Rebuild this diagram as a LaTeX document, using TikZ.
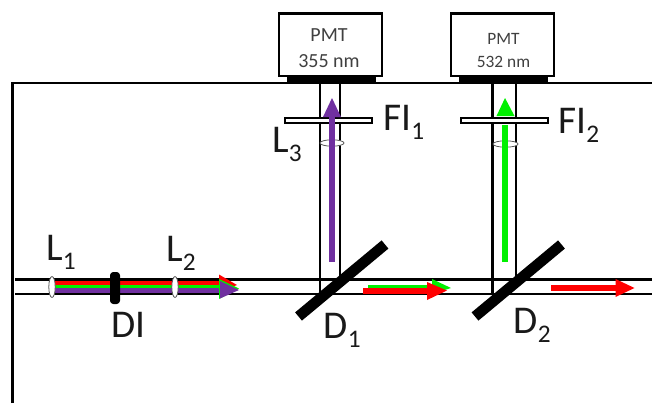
\documentclass[tikz,border=0pt]{standalone}
\usepackage{fontspec}
\setmainfont{Carlito}
\definecolor{beamred}{RGB}{255,0,0}
\definecolor{beamgreen}{RGB}{0,240,0}
\definecolor{beampurple}{RGB}{112,48,160}
\definecolor{pmttext}{RGB}{64,64,64}
\newcommand\labsub[1]{\raisebox{-6.75pt}{\fontsize{19}{19}\selectfont #1}}
\tikzset{
  wire/.style={draw=black,line width=1.6pt},
  pmtbox/.style={wire,fill=white,inner sep=0pt,anchor=north west,minimum width=77pt,minimum height=46.5pt},
  pmtbase/.style={fill=black},
  filterbar/.style={draw=black,line width=1.5pt,fill=white},
  lens/.style={draw=black!65,line width=0.6pt,fill=white},
  mirror/.style={draw=black,line width=8pt},
  biglabel/.style={anchor=base west,inner sep=0pt,text=black!90,font=\fontsize{29.5}{29.5}\selectfont},
  pmtlabel/.style={anchor=base,inner sep=0pt,text=pmttext}
}
\begin{document}
\begin{tikzpicture}[x=0.75pt,y=-0.75pt]
\useasboundingbox (0,0) rectangle (652,403);
% frame and beam tubes
\draw[wire] (12.5,403) -- (12.5,83) -- (652,83);
\draw[wire] (15,279.5) -- (652,279.5);
\draw[wire] (15,294) -- (652,294);
\draw[wire] (320,83) -- (320,293);
\draw[wire] (340,83) -- (340,279);
\draw[wire] (492.5,83) -- (492.5,293);
\draw[wire] (516,83) -- (516,279);
% PMTs
\fill[pmtbase] (287,73) rectangle (376,83);
\fill[pmtbase] (459,73) rectangle (548,83);
\node[pmtbox] (pmta) at (278,12.5) {};
\node[pmtbox] (pmtb) at (450,12.5) {};
\node[pmtlabel,font=\fontsize{15}{15}\selectfont] (pmtaone) at (329,41) {PMT};
\node[pmtlabel,font=\fontsize{15}{15}\selectfont] (pmtatwo) at (329,67) {355 nm};
\node[pmtlabel,font=\fontsize{13}{13}\selectfont] (pmtbone) at (503.5,45) {PMT};
\node[pmtlabel,font=\fontsize{13}{13}\selectfont] (pmtbtwo) at (503.5,67.5) {532 nm};
% mixed beam
\fill[beamred] (55,280.5) rectangle (220,285);
\fill[beamgreen] (55,285) rectangle (220,287.7);
\fill[beampurple] (55,287.7) rectangle (220,293);
\fill[beamred] (219,274.5) -- (237,285) -- (219,292) -- cycle;
\fill[beamgreen] (219,279) -- (239,288.5) -- (219,299) -- cycle;
\fill[beampurple] (220,281) -- (239,290) -- (220,298.5) -- cycle;
% optics on the mixed beam
\draw[lens,fill=white] (52,287) ellipse (3.2 and 10.5);
\draw[lens,fill=white] (175,287) ellipse (3.2 and 10.5);
\fill[black,rounded corners=2.5pt] (110,272) rectangle (120,304);
% mirrors
\draw[mirror] (298.5,316.5) -- (385,244.5);
\draw[mirror] (475,316.5) -- (561.5,244.5);
% filters and upper lenses
\draw[filterbar] (285,117.5) rectangle (372,123);
\draw[filterbar] (461,117.5) rectangle (548,123);
\draw[lens] (332,143) ellipse (12 and 3.2);
\draw[lens] (505.5,144) ellipse (12.5 and 3.2);
% vertical arrows
\fill[beampurple] (329,262) rectangle (335,117);
\fill[beampurple] (323,117) -- (332,98) -- (341,117) -- cycle;
\fill[beamgreen] (502,262) rectangle (508,125);
\fill[beamgreen] (496.5,116) -- (505,98) -- (514.5,116) -- cycle;
% horizontal arrows
\fill[beamgreen] (368,285) rectangle (434,288);
\fill[beamgreen] (432,279) -- (451,288) -- (432,294) -- cycle;
\fill[beamred] (363,287.5) rectangle (428,293.5);
\fill[beamred] (427,282) -- (447,290.5) -- (427,300) -- cycle;
\fill[beamred] (551,285) rectangle (616,291);
\fill[beamred] (615.5,279) -- (634.5,288) -- (615.5,297) -- cycle;
% labels
\node[biglabel] (lone) at (46,260) {L\labsub{1}};
\node[biglabel] (ltwo) at (166,261) {L\labsub{2}};
\node[biglabel] (lthree) at (272,152) {L\labsub{3}};
\node[biglabel] (di) at (111,337) {DI};
\node[biglabel] (done) at (323.5,338) {D\labsub{1}};
\node[biglabel] (dtwo) at (513.5,333) {D\labsub{2}};
\node[biglabel] (fione) at (383,130) {FI\labsub{1}};
\node[biglabel] (fitwo) at (558,133) {FI\labsub{2}};
\end{tikzpicture}
\end{document}
